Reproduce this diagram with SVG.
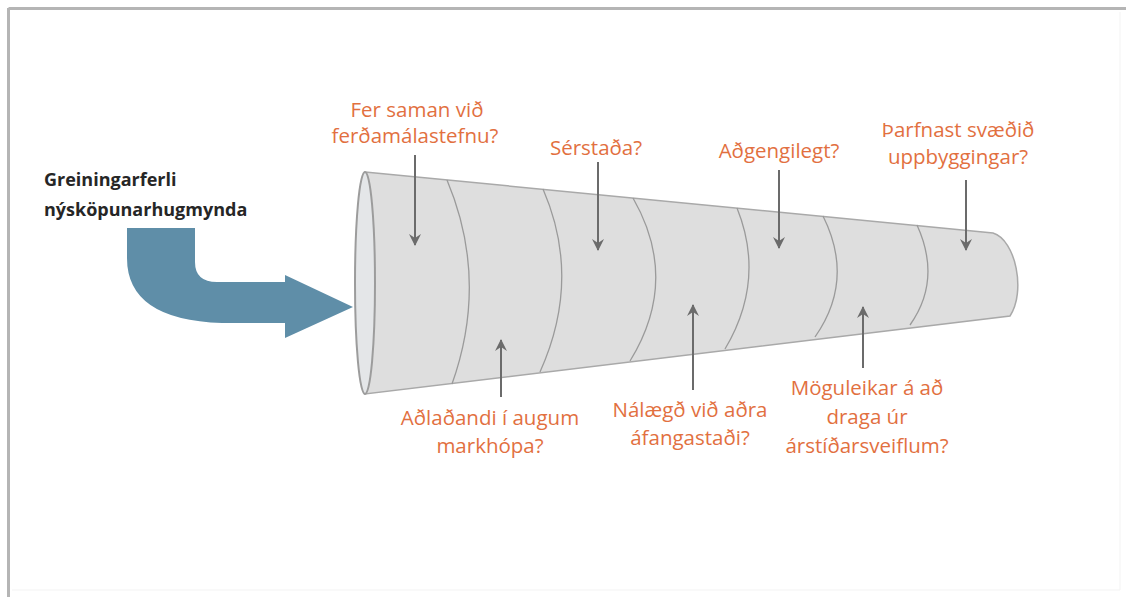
<svg xmlns="http://www.w3.org/2000/svg" width="1126" height="597" viewBox="0 0 1126 597">
<defs>
<style>
.q{font-family:"Open Sans","Liberation Sans",sans-serif;font-size:20.5px;fill:#e2703f;text-anchor:middle}
.t{font-family:"Open Sans","Liberation Sans",sans-serif;font-size:18px;font-weight:bold;fill:#262626}
.div{fill:none;stroke:#9a9a9a;stroke-width:1.3}
.ar{stroke:#6b6b6b;stroke-width:2;fill:none;marker-end:url(#ah)}
</style>
<marker id="ah" viewBox="0 0 12 12" refX="11" refY="6" markerWidth="12" markerHeight="12" markerUnits="userSpaceOnUse" orient="auto">
<path d="M0,0 L12,6 L0,12 L4,6 Z" fill="#6b6b6b"/>
</marker>
</defs>
<rect x="0" y="0" width="1126" height="597" fill="#ffffff"/>
<g id="frame">
<line x1="8.5" y1="8.5" x2="1126" y2="8.5" stroke="#b5b5b5" stroke-width="3"/>
<line x1="8.5" y1="8" x2="8.5" y2="597" stroke="#b5b5b5" stroke-width="3"/>
<line x1="1120" y1="12" x2="1120" y2="590" stroke="#f3f3f3" stroke-width="1"/>
<line x1="12" y1="590" x2="1120" y2="590" stroke="#f3f3f3" stroke-width="1"/>
</g>
<g id="input-arrow">
<path d="M127,228 L195,228 L195,262 Q195,282 217,282 L285,282 L285,275 L353,307 L285,338 L285,323 L222,323 Q127,320 127,258 Z" fill="#5f8ea8"/>
</g>
<g id="funnel">
<path d="M365,172 L993,233 C1016,240 1026,292 1010,316 L365,394 Z" fill="#dedede" stroke="#a9a9a9" stroke-width="1.5"/>
<ellipse cx="365" cy="283" rx="10" ry="111" fill="#e4e6e8" stroke="#9c9c9c" stroke-width="2"/>
<path class="div" d="M447,180 Q489,280 452,384"/>
<path class="div" d="M543,189 Q582,279 540,372"/>
<path class="div" d="M633,198 Q680,280 630,361"/>
<path class="div" d="M737,208 Q766,280 725,349"/>
<path class="div" d="M823,216 Q855,280 815,337"/>
<path class="div" d="M917,225 Q942,280 910,325"/>
</g>
<g id="title">
<text class="t" x="44" y="186">Greiningarferli</text>
<text class="t" x="44" y="216">nýsköpunarhugmynda</text>
</g>
<g id="q1"><text class="q" x="417" y="117">Fer saman við</text><text class="q" x="415" y="143">ferðamálastefnu?</text></g>
<g id="q2"><text class="q" x="596" y="155">Sérstaða?</text></g>
<g id="q3"><text class="q" x="779" y="158">Aðgengilegt?</text></g>
<g id="q4"><text class="q" x="958" y="137">Þarfnast svæðið</text><text class="q" x="958" y="164">uppbyggingar?</text></g>
<g id="q5"><text class="q" x="490" y="425">Aðlaðandi í augum</text><text class="q" x="490" y="453">markhópa?</text></g>
<g id="q6"><text class="q" x="690" y="417">Nálægð við aðra</text><text class="q" x="690" y="445">áfangastaði?</text></g>
<g id="q7"><text class="q" x="867" y="395">Möguleikar á að</text><text class="q" x="867" y="424">draga úr</text><text class="q" x="867" y="453">árstíðarsveiflum?</text></g>
<g id="connectors">
<line class="ar" x1="415" y1="155" x2="415" y2="245"/>
<line class="ar" x1="598" y1="162" x2="598" y2="250"/>
<line class="ar" x1="779" y1="170" x2="779" y2="248"/>
<line class="ar" x1="966" y1="180" x2="966" y2="250"/>
<line class="ar" x1="501" y1="397" x2="501" y2="340"/>
<line class="ar" x1="693" y1="390" x2="693" y2="305"/>
<line class="ar" x1="863" y1="368" x2="863" y2="307"/>
</g>
</svg>
